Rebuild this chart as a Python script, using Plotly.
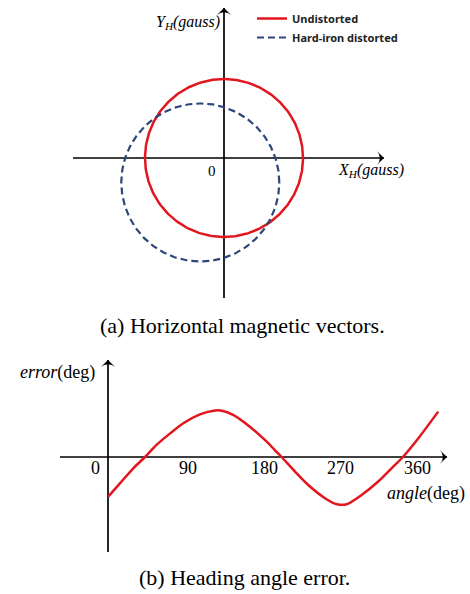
import numpy as np
import plotly.graph_objects as go

# ---- (a) horizontal magnetic vectors ----
FIELD_RADIUS = 1.0                 # gauss (normalised)
UNDISTORTED_CENTER = (0.0, 0.0)
HARD_IRON_CENTER = (-0.30, -0.31)  # hard-iron bias shifts the circle
SERIES_NAMES = ["Undistorted", "Hard-iron distorted"]

# ---- (b) heading angle error ----
angle_deg = [0, 14, 30, 43.5, 57, 73, 88.5, 108, 124, 134, 147, 167, 186.5,
             196, 204, 220, 235, 255, 269, 280.5, 298, 317.5, 333.5, 346.5,
             364.5, 388]
error_deg = [-8.6, -5.7, -2.4, 0.0, 2.6, 5.1, 7.3, 9.2, 10.0, 10.0, 9.1, 6.5,
             3.3, 1.5, 0.0, -3.2, -6.0, -8.9, -10.2, -10.2, -8.2, -5.3, -2.4,
             0.0, 4.0, 9.8]
angle_ticks = [90, 180, 270, 360]

RED = "#e3151f"
BLUE = "#2c4777"
SERIF = "Times New Roman, Liberation Serif, DejaVu Serif, serif"
SANS = "Noto Sans, Liberation Sans, sans-serif"

W, H = 470, 594
# top panel: 79 px per gauss unit, origin at (224, 158) px
PX_A = 79.0
# bottom panel: 0.851 px per degree, 4.63 px per error unit, origin at (108, 457) px
PX_ANG, PX_ERR = 0.851, 4.63


def circle(center, r, n=361):
    t = np.linspace(0, 2 * np.pi, n)
    return center[0] + r * np.cos(t), center[1] + r * np.sin(t)


fig = go.Figure()


def axis_line(xa, ya, xs, ys, tip_angle):
    """Black axis line with a chevron-style arrow head at its end."""
    fig.add_trace(go.Scatter(x=xs, y=ys, mode="lines", line=dict(color="black", width=1.7),
                             showlegend=False, hoverinfo="skip", xaxis=xa, yaxis=ya))
    fig.add_trace(go.Scatter(x=[xs[-1]], y=[ys[-1]], mode="markers",
                             marker=dict(symbol="arrow-wide", size=10, angle=tip_angle,
                                         color="black", line=dict(width=0)),
                             showlegend=False, hoverinfo="skip", xaxis=xa, yaxis=ya))


# axes of panel (a)
axis_line("x", "y", [(73 - 224) / PX_A, (384 - 224) / PX_A], [0, 0], 90)
axis_line("x", "y", [0, 0], [-(298 - 158) / PX_A, (158 - 8) / PX_A], 0)
# axes of panel (b)
axis_line("x2", "y2", [(60 - 108) / PX_ANG, (447 - 108) / PX_ANG], [0, 0], 90)
axis_line("x2", "y2", [0, 0], [-(552 - 457) / PX_ERR, (457 - 360) / PX_ERR], 0)

ux, uy = circle(UNDISTORTED_CENTER, FIELD_RADIUS)
hx, hy = circle(HARD_IRON_CENTER, FIELD_RADIUS)
fig.add_trace(go.Scatter(x=ux, y=uy, mode="lines", name=SERIES_NAMES[0],
                         line=dict(color=RED, width=2.5),
                         xaxis="x", yaxis="y"))
fig.add_trace(go.Scatter(x=hx, y=hy, mode="lines", name=SERIES_NAMES[1],
                         line=dict(color=BLUE, width=2.2, dash="7px,4px"),
                         xaxis="x", yaxis="y"))
fig.add_trace(go.Scatter(x=angle_deg, y=error_deg, mode="lines",
                         line=dict(color=RED, width=2.5, shape="spline", smoothing=0.8),
                         showlegend=False, xaxis="x2", yaxis="y2"))

fig.update_layout(
    width=W, height=H,
    margin=dict(l=0, r=0, t=0, b=0),
    paper_bgcolor="white", plot_bgcolor="white",
    xaxis=dict(domain=[0, 1], range=[-224 / PX_A, (W - 224) / PX_A], visible=False),
    yaxis=dict(domain=[1 - 300 / H, 1], range=[-(300 - 158) / PX_A, 158 / PX_A], visible=False),
    xaxis2=dict(domain=[0, 1], range=[-108 / PX_ANG, (W - 108) / PX_ANG], visible=False, anchor="y2"),
    yaxis2=dict(domain=[0, 264 / H], range=[-(594 - 457) / PX_ERR, (457 - 330) / PX_ERR],
                visible=False, anchor="x2"),
    showlegend=True,
    legend=dict(x=252 / W, y=1 - 4 / H, xanchor="left", yanchor="top",
                bgcolor="rgba(0,0,0,0)", tracegroupgap=0,
                font=dict(family=SANS, size=11, color="#222222", weight="bold"),
                itemwidth=30),
)

ann = []


def label(xr, yr, x, y, text, size, xanchor="center", xshift=0):
    ann.append(dict(xref=xr, yref=yr, x=x, y=y, text=text, showarrow=False,
                    xanchor=xanchor, yanchor="middle", xshift=xshift,
                    font=dict(family=SERIF, size=size, color="black")))


label("x", "y", -0.02, (158 - 22) / PX_A,
      "<i>Y</i><sub><i>H</i></sub><i>(gauss)</i>", 16, xanchor="right")
label("x", "y", (336 - 224) / PX_A, -(170 - 158) / PX_A,
      "<i>X</i><sub><i>H</i></sub><i>(gauss)</i>", 16, xanchor="left")
label("x", "y", 0, -(171 - 158) / PX_A, "0", 15, xanchor="right", xshift=-6)

label("x2", "y2", -12.9, (457 - 372) / PX_ERR, "<i>error</i>(deg)", 18, xanchor="right")
label("x2", "y2", (467 - 108) / PX_ANG, -(493 - 457) / PX_ERR, "<i>angle</i>(deg)", 18,
      xanchor="right")
label("x2", "y2", 0, -(468 - 457) / PX_ERR, "0", 18, xanchor="right", xshift=-6)
for t in angle_ticks:
    label("x2", "y2", t, -(468 - 457) / PX_ERR, str(t), 18, xshift=3)

# panel captions
label("paper", "paper", 242.5 / W, 1 - 325 / H, "(a) Horizontal magnetic vectors.", 22)
label("paper", "paper", 244.5 / W, 1 - 577 / H, "(b) Heading angle error.", 22)

fig.update_layout(annotations=ann)
fig.write_html("out.html")
